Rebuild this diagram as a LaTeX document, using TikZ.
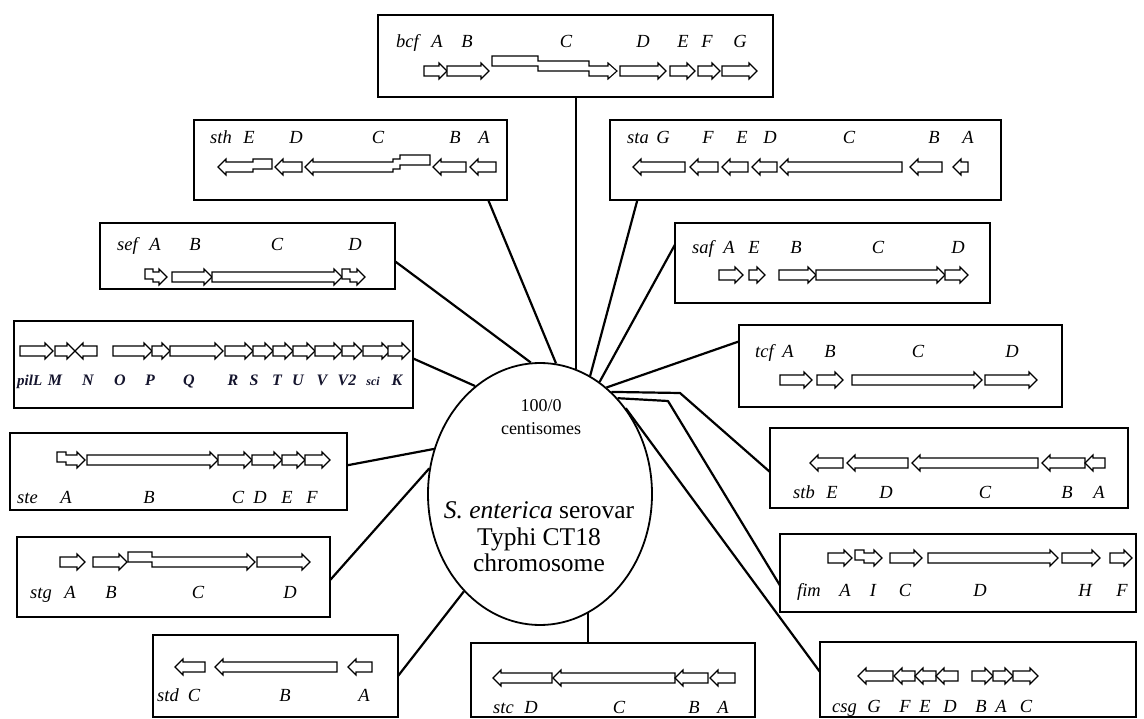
\documentclass[tikz,border=0pt]{standalone}
\usepackage{fontspec}
\setmainfont{Liberation Serif}
\usetikzlibrary{shapes.geometric,calc}
\def\gy{0}
\newcommand\Rg[2]{\draw[gene] ({#1},{\gy-5}) -- ({#2-8},{\gy-5}) -- ({#2-8},{\gy-8}) -- ({#2},{\gy}) -- ({#2-8},{\gy+8}) -- ({#2-8},{\gy+5}) -- ({#1},{\gy+5}) -- cycle;}
\newcommand\Lg[2]{\draw[gene] ({#1},{\gy}) -- ({#1+8},{\gy-8}) -- ({#1+8},{\gy-5}) -- ({#2},{\gy-5}) -- ({#2},{\gy+5}) -- ({#1+8},{\gy+5}) -- ({#1+8},{\gy+8}) -- cycle;}
\newcommand\Rs[4]{\draw[gene] ({#1},{\gy-5+(#4)}) -- ({#2},{\gy-5+(#4)}) -- ({#2},{\gy-5}) -- ({#3-8},{\gy-5}) -- ({#3-8},{\gy-8}) -- ({#3},{\gy}) -- ({#3-8},{\gy+8}) -- ({#3-8},{\gy+5}) -- ({#2},{\gy+5}) -- ({#2},{\gy+5+(#4)}) -- ({#1},{\gy+5+(#4)}) -- cycle;}
\newcommand\Ls[4]{\draw[gene] ({#1},{\gy}) -- ({#1+8},{\gy-8}) -- ({#1+8},{\gy-5}) -- ({#2},{\gy-5}) -- ({#2},{\gy-5+(#4)}) -- ({#3},{\gy-5+(#4)}) -- ({#3},{\gy+5+(#4)}) -- ({#2},{\gy+5+(#4)}) -- ({#2},{\gy+5}) -- ({#1+8},{\gy+5}) -- ({#1+8},{\gy+8}) -- cycle;}
\newcommand\gbox[5]{\node[box,minimum width={#4-#2},minimum height={#5-#3}] (#1) at (#2,#3) {};}
\begin{document}
\begin{tikzpicture}[x=1pt,y=-1pt,
  box/.style={draw,line width=1.8pt,anchor=north west,inner sep=0pt,outer sep=0pt},
  gene/.style={draw,line width=1.1pt,fill=white,line join=miter},
  lab/.style={font=\fontsize{18.5}{20}\selectfont\itshape,inner sep=0pt,anchor=base},
  labw/.style={lab,anchor=base west},
  plab/.style={font=\fontsize{16}{18}\selectfont\bfseries\itshape,text={rgb,255:red,20;green,20;blue,45},inner sep=0pt,anchor=base},
  ctext/.style={font=\fontsize{25.5}{27}\selectfont,inner sep=0pt,anchor=base},
  link/.style={line width=2.2pt,line join=round},
]
\useasboundingbox (0,0) rectangle (1144,719);

% chromosome
\node[draw,line width=1.8pt,ellipse,minimum width=224pt,minimum height=262pt,inner sep=0pt] (chr) at (540,494) {};
\node[font=\fontsize{18}{20}\selectfont,inner sep=0pt,anchor=base] (cs1) at (541,411) {100/0};
\node[font=\fontsize{18}{20}\selectfont,inner sep=0pt,anchor=base] (cs2) at (541,435) {centisomes};
\node[ctext] (t1) at (539,518) {\textit{S. enterica} serovar};
\node[ctext] (t2) at (539,545) {Typhi CT18};
\node[ctext] (t3) at (539,571) {chromosome};

% boxes
\gbox{bcf}{378}{15}{773}{97}
\gbox{sth}{194}{120}{507}{200}
\gbox{sta}{610}{120}{1001}{200}
\gbox{sef}{100}{223}{395}{289}
\gbox{saf}{675}{223}{990}{303}
\gbox{pil}{14}{321}{413}{408}
\gbox{tcf}{739}{325}{1062}{407}
\gbox{ste}{10}{433}{347}{510}
\gbox{stb}{770}{428}{1128}{508}
\gbox{stg}{17}{537}{330}{617}
\gbox{fim}{780}{534}{1136}{612}
\gbox{std}{153}{635}{398}{717}
\gbox{stc}{471}{643}{755}{717}
\gbox{csg}{820}{642}{1136}{717}

% bend points of the right-hand connectors
\coordinate (kstb) at (680,393);
\coordinate (kfim) at (668,401);

% connectors
\draw[link] (bcf.south -| chr.74) -- (chr.74);
\draw[link] ($(sth.south west)!0.94!(sth.south east)$) -- (chr.83);
\draw[link] ($(sta.south west)!0.07!(sta.south east)$) -- (chr.67);
\draw[link] ($(sef.north east)!0.58!(sef.south east)$) -- (chr.94);
\draw[link] ($(saf.north west)!0.27!(saf.south west)$) -- (chr.62);
\draw[link] ($(pil.north east)!0.43!(pil.south east)$) -- (chr.121);
\draw[link] ($(tcf.north west)!0.2!(tcf.south west)$) -- (chr.58);
\draw[link] ($(ste.north east)!0.42!(ste.south east)$) -- (chr.157);
\draw[link] ($(stb.north west)!0.55!(stb.south west)$) -- (kstb) -- (chr.55);
\draw[link] ($(stg.north east)!0.54!(stg.south east)$) -- (chr.167);
\draw[link] ($(fim.north west)!0.66!(fim.south west)$) -- (kfim) -- (chr.51);
\draw[link] ($(std.north east)!0.5!(std.south east)$) -- (chr.232);
\draw[link] (stc.north -| chr.292) -- (chr.292);
\draw[link] ($(csg.north west)!0.4!(csg.south west)$) -- (chr.45);

% bcf
\def\gy{71}
\Rg{424}{447}\Rg{447}{489}
\draw[gene] (492,56) -- (538,56) -- (538,61) -- (589,61) -- (589,66) -- (608,66) -- (608,63) -- (617,71) -- (608,79) -- (608,76) -- (589,76) -- (589,71) -- (538,71) -- (538,66) -- (492,66) -- cycle;
\Rg{620}{666}\Rg{670}{695}\Rg{698}{720}\Rg{722}{757}
\node[labw] (bcf0) at (396,48) {bcf};
\node[lab] (bcfA) at (437,48) {A};
\node[lab] (bcfB) at (467,48) {B};
\node[lab] (bcfC) at (566,48) {C};
\node[lab] (bcfD) at (643,48) {D};
\node[lab] (bcfE) at (683,48) {E};
\node[lab] (bcfF) at (707,48) {F};
\node[lab] (bcfG) at (740,48) {G};

% sth
\def\gy{167}
\Ls{218}{253}{272}{-3}\Lg{275}{302}
\draw[gene] (305,167) -- (313,159) -- (313,162) -- (393,162) -- (393,159) -- (400,159) -- (400,155) -- (430,155) -- (430,165) -- (400,165) -- (400,169) -- (393,169) -- (393,172) -- (313,172) -- (313,175) -- cycle;
\Lg{433}{466}\Lg{470}{496}
\node[labw] (sth0) at (210,144) {sth};
\node[lab] (sthE) at (249,144) {E};
\node[lab] (sthD) at (296,144) {D};
\node[lab] (sthC) at (378,144) {C};
\node[lab] (sthB) at (455,144) {B};
\node[lab] (sthA) at (484,144) {A};

% sta
\def\gy{167}
\Lg{633}{685}\Lg{690}{718}\Lg{722}{748}\Lg{752}{777}\Lg{780}{902}\Lg{910}{942}\Lg{953}{968}
\node[labw] (sta0) at (627,144) {sta};
\node[lab] (staG) at (663,144) {G};
\node[lab] (staF) at (708,144) {F};
\node[lab] (staE) at (742,144) {E};
\node[lab] (staD) at (770,144) {D};
\node[lab] (staC) at (849,144) {C};
\node[lab] (staB) at (934,144) {B};
\node[lab] (staA) at (968,144) {A};

% sef
\def\gy{277}
\Rs{145}{153}{167}{-3}\Rg{172}{212}\Rg{212}{342}\Rs{342}{350}{365}{-3}
\node[labw] (sef0) at (117,251) {sef};
\node[lab] (sefA) at (155,251) {A};
\node[lab] (sefB) at (195,251) {B};
\node[lab] (sefC) at (277,251) {C};
\node[lab] (sefD) at (355,251) {D};

% saf
\def\gy{275}
\Rg{719}{743}\Rg{749}{765}\Rg{779}{816}\Rg{816}{945}\Rg{945}{968}
\node[labw] (saf0) at (692,254) {saf};
\node[lab] (safA) at (729,254) {A};
\node[lab] (safE) at (754,254) {E};
\node[lab] (safB) at (796,254) {B};
\node[lab] (safC) at (878,254) {C};
\node[lab] (safD) at (958,254) {D};

% pil
\def\gy{351}
\Rg{20}{53}\Rg{55}{75}\Lg{75}{97}\Rg{113}{152}\Rg{152}{170}\Rg{170}{223}\Rg{225}{253}\Rg{253}{273}\Rg{273}{293}\Rg{293}{315}\Rg{315}{342}\Rg{342}{362}\Rg{363}{390}\Rg{388}{410}
\node[plab,anchor=base west,font=\fontsize{15}{17}\selectfont\bfseries\itshape] (pil0) at (17,386) {pilL};
\node[plab] (pilM) at (55,386) {M};
\node[plab] (pilN) at (88,386) {N};
\node[plab] (pilO) at (120,386) {O};
\node[plab] (pilP) at (150,386) {P};
\node[plab] (pilQ) at (189,386) {Q};
\node[plab] (pilR) at (233,386) {R};
\node[plab] (pilS) at (254,386) {S};
\node[plab] (pilT) at (277,386) {T};
\node[plab] (pilU) at (298,386) {U};
\node[plab] (pilV) at (322,386) {V};
\node[plab] (pilV2) at (347,386) {V2};
\node[plab,font=\fontsize{12}{14}\selectfont\bfseries\itshape] (pilsci) at (373,386) {sci};
\node[plab] (pilK) at (397,386) {K};

% tcf
\def\gy{380}
\Rg{780}{812}\Rg{817}{843}\Rg{852}{982}\Rg{985}{1037}
\node[labw] (tcf0) at (755,358) {tcf};
\node[lab] (tcfA) at (788,358) {A};
\node[lab] (tcfB) at (830,358) {B};
\node[lab] (tcfC) at (918,358) {C};
\node[lab] (tcfD) at (1012,358) {D};

% ste
\def\gy{460}
\Rs{57}{66}{85}{-3}\Rg{87}{218}\Rg{218}{252}\Rg{252}{282}\Rg{282}{305}\Rg{305}{330}
\node[labw] (ste0) at (17,503) {ste};
\node[lab] (steA) at (66,503) {A};
\node[lab] (steB) at (149,503) {B};
\node[lab] (steC) at (238,503) {C};
\node[lab] (steD) at (260,503) {D};
\node[lab] (steE) at (287,503) {E};
\node[lab] (steF) at (312,503) {F};

% stb
\def\gy{463}
\Lg{810}{843}\Lg{847}{908}\Lg{912}{1038}\Lg{1042}{1085}\Lg{1085}{1105}
\node[labw] (stb0) at (793,498) {stb};
\node[lab] (stbE) at (832,498) {E};
\node[lab] (stbD) at (886,498) {D};
\node[lab] (stbC) at (985,498) {C};
\node[lab] (stbB) at (1067,498) {B};
\node[lab] (stbA) at (1099,498) {A};

% stg
\def\gy{562}
\Rg{60}{85}\Rg{93}{127}\Rs{128}{152}{255}{-5}\Rg{257}{310}
\node[labw] (stg0) at (30,598) {stg};
\node[lab] (stgA) at (70,598) {A};
\node[lab] (stgB) at (111,598) {B};
\node[lab] (stgC) at (198,598) {C};
\node[lab] (stgD) at (290,598) {D};

% fim
\def\gy{558}
\Rg{828}{852}\Rs{855}{864}{882}{-3}\Rg{890}{922}\Rg{928}{1058}\Rg{1062}{1100}\Rg{1110}{1132}
\node[labw] (fim0) at (797,596) {fim};
\node[lab] (fimA) at (845,596) {A};
\node[lab] (fimI) at (873,596) {I};
\node[lab] (fimC) at (905,596) {C};
\node[lab] (fimD) at (980,596) {D};
\node[lab] (fimH) at (1085,596) {H};
\node[lab] (fimF) at (1122,596) {F};

% std
\def\gy{667}
\Lg{175}{205}\Lg{215}{337}\Lg{348}{372}
\node[labw] (std0) at (157,701) {std};
\node[lab] (stdC) at (194,701) {C};
\node[lab] (stdB) at (285,701) {B};
\node[lab] (stdA) at (364,701) {A};

% stc
\def\gy{678}
\Lg{493}{552}\Lg{553}{675}\Lg{675}{708}\Lg{710}{735}
\node[labw] (stc0) at (493,713) {stc};
\node[lab] (stcD) at (531,713) {D};
\node[lab] (stcC) at (619,713) {C};
\node[lab] (stcB) at (694,713) {B};
\node[lab] (stcA) at (723,713) {A};

% csg
\def\gy{676}
\Lg{858}{893}\Lg{894}{915}\Lg{915}{936}\Lg{936}{958}\Rg{972}{993}\Rg{993}{1013}\Rg{1013}{1038}
\node[labw] (csg0) at (832,712) {csg};
\node[lab] (csgG) at (874,712) {G};
\node[lab] (csgF) at (905,712) {F};
\node[lab] (csgE) at (925,712) {E};
\node[lab] (csgD) at (950,712) {D};
\node[lab] (csgB) at (981,712) {B};
\node[lab] (csgA) at (1001,712) {A};
\node[lab] (csgC) at (1026,712) {C};
\end{tikzpicture}
\end{document}
